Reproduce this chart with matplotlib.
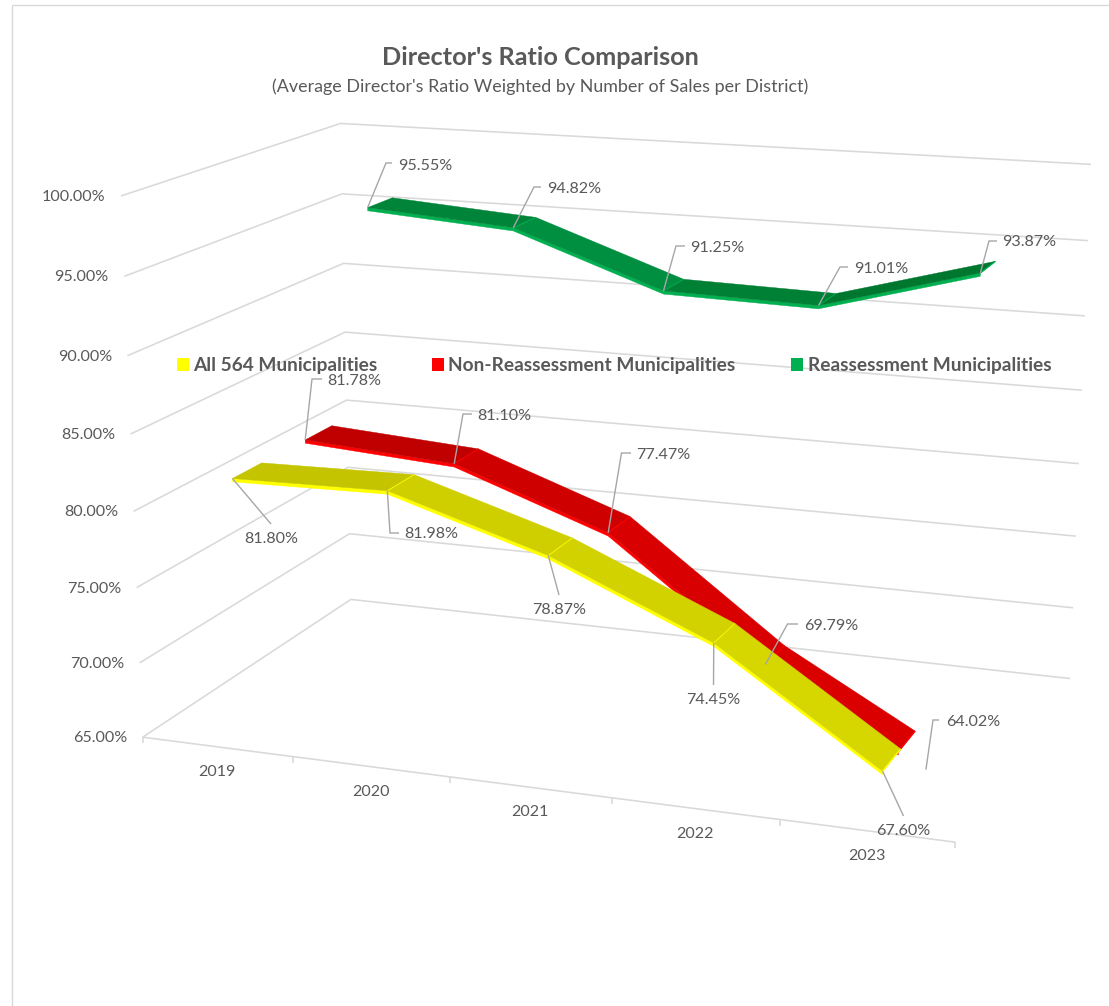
import numpy as np
import matplotlib
matplotlib.use('Agg')
import matplotlib.pyplot as plt
from matplotlib.patches import Polygon, Rectangle

years = ['2019', '2020', '2021', '2022', '2023']
all_564 = [81.80, 81.98, 78.87, 74.45, 67.60]
non_reassess = [81.78, 81.10, 77.47, 69.79, 64.02]
reassess = [95.55, 94.82, 91.25, 91.01, 93.87]
axis_levels = [65, 70, 75, 80, 85, 90, 95, 100]

TEXT = '#595959'
GRID = '#D9D9D9'
LEADER = '#A6A6A6'

# pixel positions of the box corners, used to solve the perspective camera
# (x slot 0-5, depth 0-1, value)
world = np.array([
    (0, 0, 65), (1, 0, 65), (2, 0, 65), (3, 0, 65), (4, 0, 65), (5, 0, 65),
    (0, 0, 70), (0, 0, 75), (0, 0, 80), (0, 0, 85), (0, 0, 90), (0, 0, 95), (0, 0, 100),
    (0, 1, 65), (0, 1, 70), (0, 1, 80), (0, 1, 85), (0, 1, 90), (0, 1, 95), (0, 1, 100),
    (5, 1, 65), (5, 1, 70), (5, 1, 75), (5, 1, 80), (5, 1, 85), (5, 1, 90), (5, 1, 95), (5, 1, 100),
], dtype=float)
pixels = np.array([
    (143, 737), (293, 757), (450, 778), (612.5, 798), (781, 819), (955, 842),
    (140, 662), (137, 587), (133, 511), (130, 434), (127.5, 356), (124, 277), (121, 196),
    (351, 599), (348, 533), (347, 401), (345, 333), (343.6, 264), (343, 194), (341, 122),
    (1071, 679), (1073, 607), (1076, 536), (1078.6, 464), (1081, 391), (1085, 316), (1087.5, 241), (1091, 163),
], dtype=float)


def solve_camera(w, p):
    w = np.column_stack([w[:, 0], w[:, 1], (w[:, 2] - 65) / 35, np.ones(len(w))])
    rows = []
    for wi, (u, v) in zip(w, p / 1000):
        rows.append(np.r_[wi, np.zeros(4), -u * wi])
        rows.append(np.r_[np.zeros(4), wi, -v * wi])
    return np.linalg.svd(np.array(rows))[2][-1].reshape(3, 4)


camera = solve_camera(world, pixels)


def project(x, y, z):
    h = camera @ np.array([x, y, (z - 65) / 35, 1.0])
    return h[0] / h[2] * 1000, h[1] / h[2] * 1000


plt.rcParams['font.family'] = ['Lato', 'DejaVu Sans']

fig = plt.figure(figsize=(11.09, 10.06), dpi=100)
ax = fig.add_axes([0, 0, 1, 1])
ax.set_xlim(0, 1109)
ax.set_ylim(1006, 0)
ax.axis('off')


def line(pts, color=GRID, lw=1.15, z=1):
    xs, ys = zip(*pts)
    ax.plot(xs, ys, color=color, lw=lw, zorder=z, solid_capstyle='butt', solid_joinstyle='miter')


# outer chart frame
line([(11.5, 1006), (11.5, 4.5), (1109, 4.5)], lw=1.0)

# walls and floor
for lev in axis_levels:
    line([project(0, 0, lev), project(0, 1, lev), project(5, 1, lev)])
    px, py = project(0, 0, lev)
    ax.text(px - 15.5, py + 1, f'{lev:.2f}%', ha='right', va='center', fontsize=11.6, color=TEXT)
line([project(0, 0, 65), project(5, 0, 65)])
for i in range(6):
    px, py = project(i, 0, 65)
    line([(px, py), (px, py + 6)])
for i, yr in enumerate(years):
    px, py = project(i + 0.5, 0, 65)
    ax.text(px, py + 25, yr, ha='center', va='center', fontsize=11.5, color=TEXT)


def ribbon(values, centre, edge, tops, zorder):
    half = 0.065
    lip = 0.22
    floor = axis_levels[0]
    xs = [i + 0.5 for i in range(len(values))]
    seam_x, seam_v = [], []
    for i in range(len(values) - 1):
        x0, x1, a, b = xs[i], xs[i + 1], values[i], values[i + 1]
        # the ribbon stops where it passes through the floor of the box
        if b < floor:
            x1 = x0 + (a - floor) / (a - b)
            b = floor
        strip = [project(x0, centre - half, a), project(x1, centre - half, b),
                 project(x1, centre - half, b - lip), project(x0, centre - half, a - lip)]
        ax.add_patch(Polygon(strip, closed=True, fc=edge, ec=edge, lw=0.3, zorder=zorder))
        top = [project(x0, centre - half, a), project(x1, centre - half, b),
               project(x1, centre + half, b), project(x0, centre + half, a)]
        ax.add_patch(Polygon(top, closed=True, fc=tops[i], ec=tops[i], lw=0.3, zorder=zorder + 0.1))
        seam_x.append(x1)
        seam_v.append(b)
    # seams between segments and the far end cap
    for n, (sx, sv) in enumerate(zip(seam_x, seam_v)):
        line([project(sx, centre - half, sv), project(sx, centre + half, sv)],
             color=edge, lw=1.0 if n == len(seam_x) - 1 else 0.6, z=zorder + 0.2)


ribbon(reassess, 5 / 6, '#00B050', ['#00843A', '#008E41', '#008035', '#00772F'], 3)
ribbon(non_reassess, 1 / 2, '#FF0000', ['#C00000', '#CF0000', '#D80000', '#DA0000'], 4)
ribbon(all_564, 1 / 6, '#FFFF00', ['#C4C400', '#CFCF00', '#D2D200', '#D6D600'], 5)

# leader bends and label centres for each data label
leaders = {
    'green': [([(386, 163), (392, 163)], (425, 165)), ([(534, 187), (541, 187)], (574, 188)),
              ([(676, 246), (685, 246)], (717, 247)), ([(840, 267), (848, 267)], (881, 268)),
              ([(989, 241), (997, 241)], (1029, 241))],
    'red': [([(312, 379), (322, 379)], (354, 380)), ([(463, 414), (472, 414)], (504, 415)),
            ([(621.5, 453), (631, 453)], (663, 454)), ([(787.5, 624), (798, 624)], (831, 625)),
            ([(933, 720), (939, 720)], (973, 721))],
    'yellow': [([(271, 524)], (271, 538)), ([(390, 533), (399, 533)], (431, 533)),
               ([(559, 595)], (559, 609)), ([(713.5, 685)], (713.5, 699)),
               ([(903.5, 816)], (903, 830))],
}
series = {'green': (reassess, 5 / 6), 'red': (non_reassess, 1 / 2), 'yellow': (all_564, 1 / 6)}
for name, (vals, centre) in series.items():
    for i, (val, (bends, label)) in enumerate(zip(vals, leaders[name])):
        line([project(i + 0.5, centre - 0.065, val)] + bends, color=LEADER, lw=1.0, z=8)
        ax.text(label[0], label[1] + 1, f'{val:.2f}%', ha='center', va='center', fontsize=11.6,
                color=TEXT, zorder=9)

ax.text(540.5, 57, "Director's Ratio Comparison", ha='center', va='center', fontsize=18.2,
        fontweight='bold', color=TEXT)
ax.text(540, 87, "(Average Director's Ratio Weighted by Number of Sales per District)",
        ha='center', va='center', fontsize=12.85, color=TEXT)

legend_labels = ['All 564 Municipalities', 'Non-Reassessment Municipalities', 'Reassessment Municipalities']
legend_colors = ['#FFFF00', '#FF0000', '#00B050']
legend_x = [177, 432, 791]
for x0, lab, col in zip(legend_x, legend_labels, legend_colors):
    ax.add_patch(Rectangle((x0, 358), 12, 13, fc=col, ec='none', zorder=10))
    ax.text(x0 + 16.5, 365.5, lab, ha='left', va='center', fontsize=13.75, fontweight='bold',
            color=TEXT, zorder=10)

fig.savefig('out.png', dpi=100)
